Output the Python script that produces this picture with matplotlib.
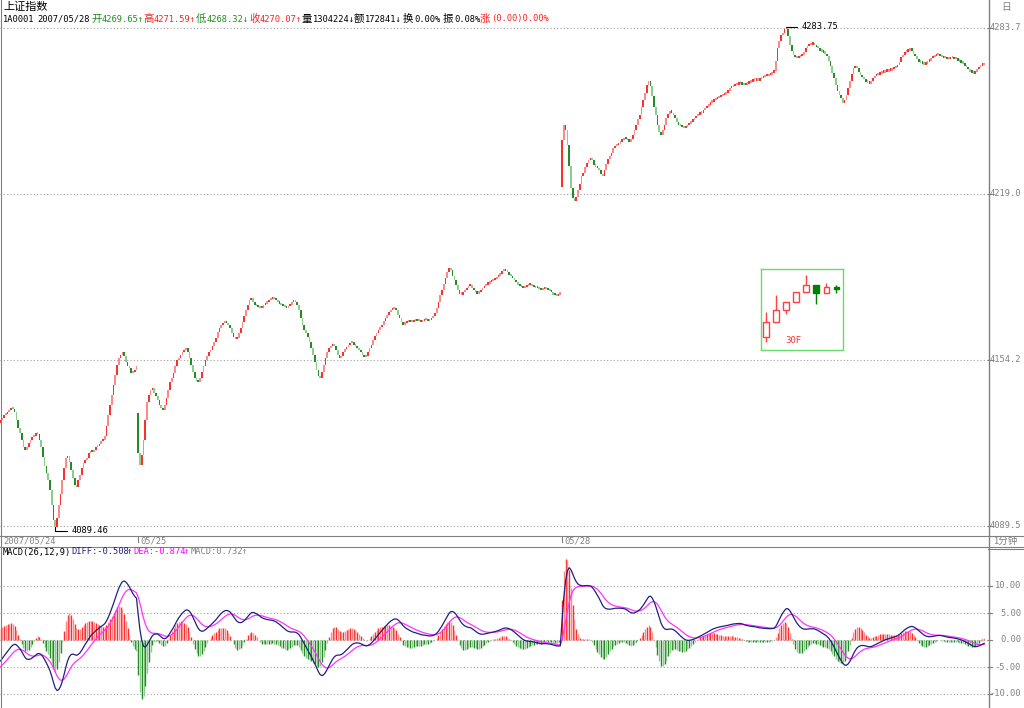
import numpy as np
import matplotlib
matplotlib.use('Agg')
import matplotlib.pyplot as plt
from matplotlib.lines import Line2D
from matplotlib.patches import Rectangle
from matplotlib.transforms import blended_transform_factory

plt.rcParams['font.family'] = ['Noto Sans CJK SC', 'DejaVu Sans']
MONO = ['DejaVu Sans Mono', 'Noto Sans CJK SC']

W, H = 1024, 708

# 1-minute closes
day1_close = [4130.9, 4131.7, 4132.9, 4133.2, 4134.0, 4134.8, 4135.6, 4135.2, 4134.0, 4130.9,
              4127.8, 4125.8, 4123.1, 4120.4, 4119.2, 4120.4, 4121.9, 4123.1, 4124.3, 4124.7,
              4125.8, 4125.4, 4123.1, 4120.4, 4116.5, 4113.0, 4110.2, 4107.5, 4103.6, 4097.7,
              4091.9, 4089.46, 4092.7, 4097.7, 4102.0, 4107.5, 4112.2, 4116.1, 4116.9, 4114.5,
              4111.4, 4108.3, 4105.6, 4104.8, 4107.5, 4109.4, 4112.2, 4114.1, 4115.3, 4116.1,
              4118.0, 4118.8, 4118.4, 4119.2, 4120.4, 4120.8, 4121.5, 4122.7, 4123.1, 4125.0,
              4128.9, 4132.9, 4136.8, 4140.7, 4144.6, 4148.5, 4152.4, 4155.1, 4156.6, 4157.4,
              4155.9, 4153.5, 4152.0, 4151.2, 4149.2, 4149.6, 4150.4, 4152.0]

day2_close = [4118.0, 4113.4, 4117.3, 4123.1, 4130.9, 4137.9, 4140.7, 4142.6, 4143.4, 4141.4,
              4140.3, 4138.7, 4136.8, 4135.6, 4134.8, 4136.8, 4139.5, 4142.6, 4145.7, 4147.3,
              4149.2, 4152.0, 4154.3, 4155.1, 4156.3, 4157.4, 4158.2, 4159.0, 4157.4, 4155.1,
              4152.4, 4149.6, 4147.3, 4146.1, 4145.7, 4147.3, 4149.6, 4152.0, 4154.3, 4155.9,
              4157.4, 4158.2, 4159.8, 4161.3, 4162.9, 4165.2, 4166.8, 4168.0, 4168.7, 4169.1,
              4168.7, 4168.0, 4166.8, 4164.8, 4163.3, 4162.5, 4162.9, 4164.8, 4166.8, 4169.1,
              4171.5, 4173.8, 4176.1, 4177.7, 4178.5, 4176.9, 4175.8, 4175.4, 4175.0, 4174.6,
              4174.6, 4175.8, 4176.5, 4176.9, 4177.7, 4178.1, 4178.5, 4178.1, 4177.7, 4176.9,
              4176.5, 4175.8, 4175.4, 4175.0, 4174.6, 4175.4, 4176.1, 4176.9, 4177.7, 4176.9,
              4175.8, 4173.8, 4170.7, 4168.0, 4166.0, 4164.8, 4163.3, 4161.3, 4159.0, 4156.3,
              4153.5, 4150.4, 4148.1, 4147.3, 4149.6, 4152.4, 4155.1, 4157.4, 4159.0, 4159.8,
              4160.5, 4159.8, 4158.2, 4156.3, 4155.1, 4155.9, 4157.4, 4158.6, 4159.4, 4160.2,
              4160.9, 4161.3, 4160.5, 4159.8, 4159.0, 4158.2, 4157.4, 4156.3, 4155.5, 4155.9,
              4157.4, 4159.0, 4160.5, 4162.1, 4163.7, 4164.8, 4166.0, 4167.2, 4168.3, 4169.5,
              4170.7, 4171.9, 4173.0, 4173.8, 4174.2, 4174.6, 4173.8, 4172.2, 4170.7, 4169.1,
              4168.3, 4168.7, 4169.1, 4169.5, 4169.1, 4169.1, 4169.5, 4169.9, 4169.5, 4169.5,
              4169.1, 4169.5, 4169.9, 4169.9, 4169.5, 4169.9, 4170.7, 4171.5, 4172.6, 4174.6,
              4176.9, 4179.7, 4181.6, 4184.3, 4186.3, 4188.6, 4190.2, 4189.4, 4187.4, 4185.5,
              4183.6, 4181.6, 4180.4, 4180.0, 4180.8, 4181.6, 4182.4, 4183.2, 4183.6, 4182.4,
              4181.6, 4180.8, 4180.4, 4180.8, 4181.6, 4182.4, 4183.2, 4183.9, 4184.3, 4184.7,
              4185.1, 4185.5, 4185.9, 4186.7, 4187.4, 4188.2, 4189.0, 4189.4, 4189.0, 4188.6,
              4187.8, 4187.1, 4186.3, 4185.5, 4184.7, 4183.9, 4183.2, 4182.8, 4182.4, 4182.8,
              4183.2, 4183.6, 4183.6, 4183.2, 4182.8, 4182.4, 4182.4, 4182.0, 4181.6, 4182.0,
              4182.4, 4182.0, 4181.6, 4181.2, 4180.8, 4180.0, 4179.7, 4179.3, 4180.0, 4180.4]

day3_close = [4240.1, 4246.3, 4244.0, 4238.2, 4230.3, 4221.4, 4217.5, 4216.3, 4217.9, 4220.6,
              4223.3, 4226.1, 4227.6, 4229.9, 4231.5, 4232.3, 4233.0, 4232.3, 4230.7, 4229.9,
              4229.2, 4228.4, 4227.2, 4226.1, 4228.4, 4231.1, 4232.7, 4234.2, 4235.4, 4237.0,
              4237.8, 4238.2, 4238.9, 4239.7, 4240.1, 4240.9, 4240.5, 4240.1, 4239.7, 4240.5,
              4242.1, 4244.0, 4246.3, 4248.3, 4249.9, 4253.3, 4255.7, 4258.8, 4261.6, 4263.5,
              4261.2, 4257.3, 4253.3, 4249.9, 4246.3, 4243.6, 4242.4, 4244.0, 4246.3, 4248.7,
              4250.6, 4251.4, 4251.0, 4249.9, 4248.7, 4247.5, 4246.3, 4245.6, 4245.2, 4244.8,
              4245.2, 4246.0, 4246.7, 4247.5, 4247.9, 4248.7, 4249.5, 4250.2, 4250.6, 4251.0,
              4251.8, 4252.6, 4253.3, 4254.1, 4254.9, 4255.3, 4255.7, 4256.1, 4256.5, 4256.9,
              4257.3, 4257.7, 4258.0, 4258.8, 4259.6, 4260.4, 4260.8, 4261.2, 4261.6, 4261.9,
              4262.3, 4262.7, 4261.9, 4261.6, 4261.9, 4262.3, 4262.7, 4263.1, 4263.5, 4263.5,
              4263.9, 4263.5, 4263.9, 4264.3, 4264.7, 4265.1, 4265.1, 4265.5, 4265.8, 4266.6,
              4267.4, 4271.3, 4276.0, 4279.1, 4281.1, 4282.2, 4283.4, 4283.75, 4280.7, 4277.5,
              4275.2, 4273.3, 4272.5, 4272.1, 4272.5, 4272.9, 4273.6, 4274.8, 4276.0, 4276.8,
              4277.2, 4277.5, 4277.5, 4277.2, 4276.4, 4276.0, 4275.2, 4274.8, 4274.4, 4274.0,
              4272.9, 4271.3, 4269.0, 4266.6, 4264.3, 4261.9, 4259.6, 4257.7, 4256.5, 4254.9,
              4255.7, 4257.7, 4260.4, 4263.5, 4266.2, 4268.2, 4268.6, 4268.2, 4267.0, 4265.8,
              4264.7, 4263.9, 4263.1, 4262.7, 4262.3, 4263.5, 4264.3, 4265.1, 4265.5, 4265.8,
              4266.2, 4266.6, 4266.6, 4267.0, 4267.0, 4267.4, 4267.4, 4267.8, 4268.2, 4268.6,
              4269.7, 4270.9, 4272.5, 4273.6, 4274.4, 4274.8, 4275.2, 4275.6, 4275.2, 4274.0,
              4272.9, 4271.7, 4270.9, 4270.5, 4270.1, 4269.7, 4270.1, 4270.9, 4271.3, 4272.1,
              4272.5, 4272.9, 4273.3, 4273.3, 4272.9, 4272.5, 4272.1, 4272.1, 4271.7, 4271.7,
              4272.1, 4272.1, 4271.7, 4271.7, 4271.3, 4270.9, 4270.5, 4270.1, 4269.3, 4268.6,
              4267.8, 4267.0, 4266.6, 4266.2, 4267.0, 4267.8, 4268.6, 4269.3, 4269.65, 4270.07]

day_open = [4130.0, 4133.6, 4221.8]
day_labels = ['2007/05/24', '05/25', '05/28']
price_labels = ['4089.5', '4154.2', '4219.0', '4283.7']
macd_levels = [10, 5, 0, -5, -10]
macd_labels = ['10.00', '5.00', '0.00', '-5.00', '-10.00']
diff_start, dea_start = -4.3, -5.2

RED = ['#ff2e2e', '#ff8888']
GREEN = ['#268a26', '#8ccc8c']
GRID = '#a0a0a0'
GREY = '#808080'

closes = np.array(day1_close + day2_close + day3_close)
n = len(closes)
starts = [0, len(day1_close), len(day1_close) + len(day2_close)]
opens = np.r_[day_open[0], closes[:-1]]
for s, o in zip(starts, day_open):
    opens[s] = o
highs = np.maximum(opens, closes)
lows = np.minimum(opens, closes)
idx = np.arange(n)
hi, lo = highs.max(), lows.min()

# MACD(26,12,9)
def ema(x, span, start):
    a = 2.0 / (span + 1)
    out = np.empty(len(x))
    prev = start
    for i, v in enumerate(x):
        prev = prev + a * (v - prev)
        out[i] = prev
    return out

e26 = ema(closes, 26, closes[0] + 3.0)
e12 = ema(closes, 12, closes[0] + 3.0 + diff_start)
diff = e12 - e26
dea = ema(diff, 9, dea_start)
hist = 2 * (diff - dea)

fig = plt.figure(figsize=(W / 100, H / 100), dpi=100)
fig.patch.set_facecolor('white')

def fx(x):
    return x / W

def fy(y):
    return 1 - y / H

def line(xs, ys, **kw):
    fig.add_artist(Line2D([fx(v) for v in xs], [fy(v) for v in ys],
                          transform=fig.transFigure, **kw))

pitch = 1.766
xl = (-0.5 / pitch, 987.5 / pitch)

# main price panel: y 12..535 px, grid 28 (high) .. 526 (low)
sc = (hi - lo) / 498.0
ax = fig.add_axes([0, fy(535), fx(988), (535 - 12) / H])
ax.set_xlim(*xl)
ax.set_ylim(lo - 9 * sc, hi + 16 * sc)
ax.axis('off')
levels = [lo + k * (hi - lo) / 3 for k in range(4)]
for v in levels:
    ax.axhline(v, color=GRID, lw=0.8, ls=(0, (1, 2)), zorder=0)

up = closes >= opens
cols = [RED[i % 2] if u else GREEN[i % 2] for i, u in enumerate(up)]
body = np.maximum(highs - lows, 2.2 * sc)
ax.bar(idx, body, bottom=lows - 0.6 * sc, width=0.95, color=cols, linewidth=0)

i_lo = int(np.argmin(lows))
i_hi = int(np.argmax(highs))
arr = dict(arrowstyle='-', connectionstyle='angle,angleA=0,angleB=90,rad=0',
           color='black', lw=0.8, shrinkA=1, shrinkB=0)
ax.annotate('%.2f' % lo, xy=(i_lo, lo - 0.6 * sc), xytext=(16, -4), textcoords='offset pixels',
            ha='left', va='center', fontsize=6.3, family=MONO, arrowprops=arr)
ax.annotate('%.2f' % hi, xy=(i_hi, hi + 1.0 * sc), xytext=(15, 0), textcoords='offset pixels',
            ha='left', va='center', fontsize=6.3, family=MONO, arrowprops=arr)

tr = blended_transform_factory(fig.transFigure, ax.transData)
for v, s in zip(levels, price_labels):
    fig.add_artist(Line2D([fx(988), fx(992)], [v, v], transform=tr, color=GREY, lw=0.8))
    fig.text(fx(1021), v, s, transform=tr, ha='right', va='center', fontsize=6.3,
             family=MONO, color=GREY)

# MACD panel: y 546..708 px, zero at 640, 5.4 px per unit
mx = fig.add_axes([0, 0, fx(988), (708 - 546) / H])
mx.set_xlim(*xl)
mx.set_ylim(-68 / 5.4, 94 / 5.4)
mx.axis('off')
for v in macd_levels:
    mx.axhline(v, color=GRID, lw=0.8, ls=(0, (1, 2)), zorder=0)
hcols = [RED[i % 2] if h >= 0 else GREEN[i % 2] for i, h in enumerate(hist)]
mx.vlines(idx, 0, hist, colors=hcols, lw=1.0)
mx.plot(idx, dea, color='#ff33ff', lw=0.9)
mx.plot(idx, diff, color='#202080', lw=0.9)
tr2 = blended_transform_factory(fig.transFigure, mx.transData)
for v, s in zip(macd_levels, macd_labels):
    fig.add_artist(Line2D([fx(988), fx(992)], [v, v], transform=tr2, color=GREY, lw=0.8))
    fig.text(fx(1021), v, s, transform=tr2, ha='right', va='center', fontsize=6.3,
             family=MONO, color=GREY)

# frame lines
line([1, 1], [0, 708], color=GREY, lw=0.8)
line([988.5, 988.5], [0, 708], color=GREY, lw=1.0)
line([0, 1024], [535.5, 535.5], color=GREY, lw=0.8)
line([0, 1024], [546.5, 546.5], color=GREY, lw=0.8)
line([988, 1024], [548.5, 548.5], color=GREY, lw=0.8)

# date row
fig.text(fx(3), fy(541), day_labels[0], ha='left', va='center', fontsize=6.3,
         family=MONO, color=GREY)
for s, lab in zip(starts[1:], day_labels[1:]):
    px = 0.5 + s * pitch
    line([px, px], [536, 542], color=GREY, lw=0.8)
    fig.text(fx(px + 2), fy(541), lab, ha='left', va='center', fontsize=6.3,
             family=MONO, color=GREY)
fig.text(fx(993), fy(541), '1分钟', ha='left', va='center', fontsize=6.8, color=GREY)
fig.text(fx(1001), fy(7), '日', ha='left', va='center', fontsize=7, color=GREY)

# header
fig.text(fx(3), fy(7), '上证指数', ha='left', va='center', fontsize=8)
BLK = 'black'
TR = '#ff2020'
TG = '#1e8c1e'
head = [('1A0001', 3, BLK), ('2007/05/28', 37, BLK),
        ('开', 91, TG), ('4269.65↑', 102, TG),
        ('高', 143, TR), ('4271.59↑', 154, TR),
        ('低', 196, TG), ('4268.32↓', 207, TG),
        ('收', 249, TR), ('4270.07↑', 260, TR),
        ('量', 302, BLK), ('1304224↓', 313, BLK),
        ('额', 354, BLK), ('172841↓', 365, BLK),
        ('换', 403, BLK), ('0.00%', 414, BLK),
        ('振', 443, BLK), ('0.08%', 454, BLK),
        ('涨', 480, TR), ('(0.00)0.00%', 491, TR)]
for s, x, c in head:
    if '\u4e00' <= s[0] <= '\u9fff':
        fig.text(fx(x), fy(19), s, ha='left', va='center', fontsize=7.5, color=c)
    else:
        fig.text(fx(x), fy(19), s, ha='left', va='center', fontsize=6.3, family=MONO, color=c)

mhead = [('MACD(26,12,9)', 3, BLK), ('DIFF:-0.508', 71, '#202080'), ('↑', 127, '#202080'),
         ('DEA:-0.874', 133, '#ff00ff'), ('↑', 184, '#ff00ff'),
         ('MACD:0.732', 191, GREY), ('↑', 242, GREY)]
for s, x, c in mhead:
    fig.text(fx(x), fy(552), s, ha='left', va='center', fontsize=6.3, family=MONO, color=c)

# 30-minute inset of the last day
ai = fig.add_axes([fx(761), fy(350), (843 - 761) / W, (350 - 269) / H])
ai.set_xticks([])
ai.set_yticks([])
for sp in ai.spines.values():
    sp.set_color('#66dd66')
    sp.set_linewidth(1.0)
d3 = starts[2]
k30 = []
for j in range(8):
    a, b = d3 + 30 * j, d3 + 30 * (j + 1)
    k30.append((opens[a], highs[a:b].max(), lows[a:b].min(), closes[b - 1]))
k30 = np.array(k30)
ai.set_xlim(-0.49, 7.65)
ai.set_ylim(k30[:, 2].min() - 7.5, k30[:, 1].max() + 6)
for j, (o, h, l, c) in enumerate(k30):
    if c >= o:
        ai.vlines(j, l, h, color='#ff4040', lw=1.0, zorder=1)
        ai.add_patch(Rectangle((j - 0.28, o), 0.56, max(c - o, 0.6), facecolor='white',
                               edgecolor='#ff4040', lw=1.0, zorder=2))
    else:
        ai.vlines(j, l, h, color='#007f00', lw=1.0, zorder=1)
        ai.add_patch(Rectangle((j - 0.28, c), 0.56, o - c, facecolor='#007f00',
                               edgecolor='#007f00', lw=1.0, zorder=2))
ai.text(0.3, 0.12, '30F', transform=ai.transAxes, ha='left', va='center', fontsize=6.5,
        color='#ff3030', family=MONO)

fig.savefig('out.png', dpi=100, facecolor='white')
